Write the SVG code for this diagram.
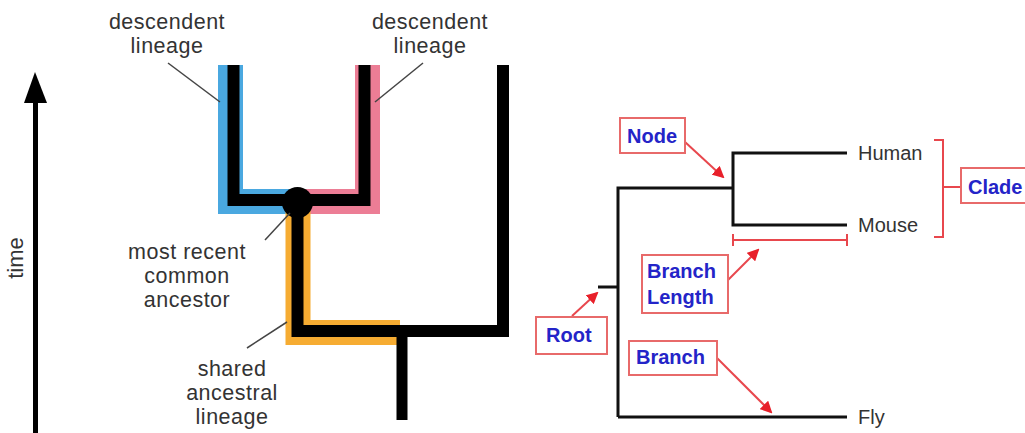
<svg xmlns="http://www.w3.org/2000/svg" width="1025" height="433" viewBox="0 0 1025 433">
<style>
.lbl{font-family:"Liberation Sans",Arial,sans-serif;font-size:21.5px;letter-spacing:0.5px;fill:#333;text-anchor:middle}
.leader{stroke:#444;stroke-width:1.5;fill:none}
.thick{stroke:#000;stroke-width:12;fill:none;stroke-linecap:square;stroke-linejoin:miter}
.band{stroke-width:25;fill:none;stroke-linecap:butt;stroke-linejoin:miter}
.tree{stroke:#111;stroke-width:3;fill:none}
.red{stroke:#e8474d;stroke-width:2;fill:none}
.box{fill:#fff;stroke:#e86a6a;stroke-width:2}
.blue{font-family:"Liberation Sans",Arial,sans-serif;font-size:20px;font-weight:bold;fill:#2424c8}
.taxon{font-family:"Liberation Sans",Arial,sans-serif;font-size:20px;fill:#333}
</style>
<defs>
<marker id="ah" markerWidth="12" markerHeight="12" refX="10" refY="6" orient="auto" markerUnits="userSpaceOnUse">
<path d="M0,0 L12,6 L0,12 Z" fill="#e8202a"/>
</marker>
</defs>
<rect width="1025" height="433" fill="#fff"/>

<g id="time-axis">
<line x1="35.5" y1="433" x2="35.5" y2="95" stroke="#000" stroke-width="5"/>
<path d="M35,72 L47,103 L24,103 Z" fill="#000"/>
<text transform="translate(23,258) rotate(-90)" class="lbl" style="font-size:22px;letter-spacing:0">time</text>
</g>

<g id="lineage-bands">
<path class="band" stroke="#4aa8e0" d="M230.5,65 V201.5 H297"/>
<path class="band" stroke="#ec7d95" d="M367.5,65 V201.5 H297"/>
<path class="band" stroke="#f6ac32" d="M298,205 V332.5 H400"/>
</g>

<g id="tree-left">
<path class="thick" d="M233.5,71 V200 H364.5 V71"/>
<path class="thick" d="M297.5,205 V331 H503 V71"/>
<line x1="402" y1="331" x2="402" y2="420" stroke="#000" stroke-width="11"/>
<circle id="mrca" cx="297.5" cy="202.5" r="15.5" fill="#000"/>
</g>

<g id="left-labels">
<g id="lbl-desc-left">
<text class="lbl" x="167" y="29">descendent</text>
<text class="lbl" x="167" y="53">lineage</text>
<line class="leader" x1="168" y1="63" x2="220" y2="102"/>
</g>
<g id="lbl-desc-right">
<text class="lbl" x="430" y="29">descendent</text>
<text class="lbl" x="430" y="53">lineage</text>
<line class="leader" x1="423" y1="63" x2="375" y2="102"/>
</g>
<g id="lbl-mrca">
<text class="lbl" x="187" y="259">most recent</text>
<text class="lbl" x="187" y="283">common</text>
<text class="lbl" x="187" y="307">ancestor</text>
<line class="leader" x1="265" y1="240" x2="290" y2="213"/>
</g>
<g id="lbl-shared">
<text class="lbl" x="232" y="376">shared</text>
<text class="lbl" x="232" y="400">ancestral</text>
<text class="lbl" x="232" y="424">lineage</text>
<line class="leader" x1="247" y1="348" x2="287" y2="322"/>
</g>
</g>

<g id="tree-right">
<path class="tree" d="M598,287 H618"/>
<path class="tree" d="M618,417 V188 H733"/>
<path class="tree" d="M847,153 H733 V225 H847"/>
<path class="tree" d="M618,417 H847"/>
</g>

<g id="taxa">
<text class="taxon" x="858" y="160">Human</text>
<text class="taxon" x="858" y="232">Mouse</text>
<text class="taxon" x="858" y="424">Fly</text>
</g>

<g id="connectors">
<path class="red" d="M733,234 V246 M733,240 H847 M847,234 V246"/>
<path class="red" d="M934,140 H943 V237 H934 M943,187 H961"/>
<line class="red" x1="685" y1="142" x2="723" y2="177" marker-end="url(#ah)"/>
<line class="red" x1="728" y1="280" x2="758" y2="250" marker-end="url(#ah)"/>
<line class="red" x1="572" y1="316" x2="597" y2="293" marker-end="url(#ah)"/>
<line class="red" x1="717" y1="358" x2="771" y2="412" marker-end="url(#ah)"/>
</g>

<g id="node-label">
<rect class="box" x="620" y="118" width="65" height="35"/>
<text class="blue" x="627" y="143">Node</text>
</g>
<g id="branch-length-label">
<rect class="box" x="642" y="255" width="86" height="58"/>
<text class="blue" x="647" y="278">Branch</text>
<text class="blue" x="647" y="304">Length</text>
</g>
<g id="root-label">
<rect class="box" x="536" y="317" width="71" height="37"/>
<text class="blue" x="546" y="342">Root</text>
</g>
<g id="branch-label">
<rect class="box" x="629" y="341" width="88" height="34"/>
<text class="blue" x="636" y="364">Branch</text>
</g>
<g id="clade-label">
<rect class="box" x="961" y="168" width="80" height="35"/>
<text class="blue" x="968" y="194">Clade</text>
</g>
</svg>
